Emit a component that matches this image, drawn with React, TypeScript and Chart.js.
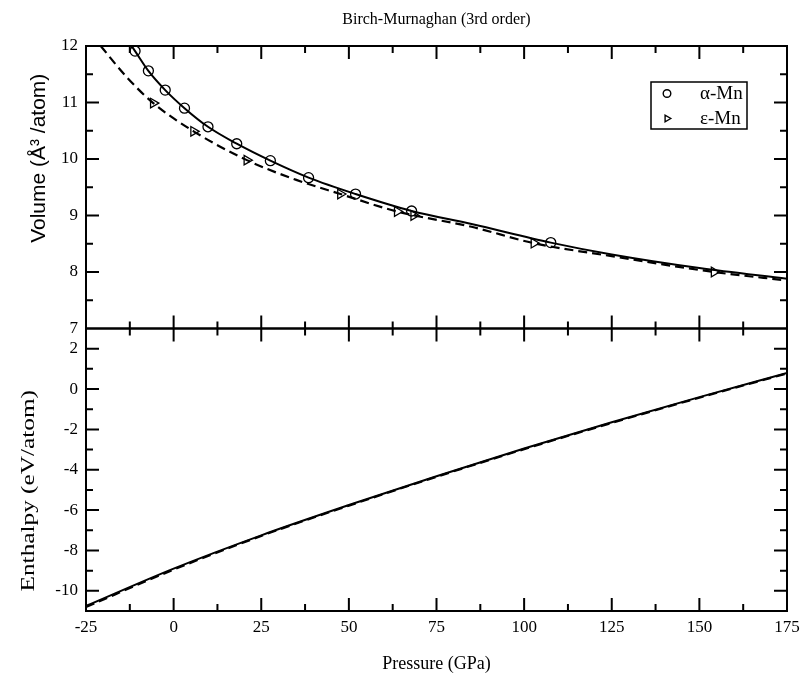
import React, { useEffect, useRef } from "react";
import { Chart, registerables } from "chart.js";
import { drawPoint } from "chart.js/helpers";

Chart.register(...registerables);

// ---- Data ----
const pressureTicks = [-25, 0, 25, 50, 75, 100, 125, 150, 175];
const volumeTicks = [7, 8, 9, 10, 11, 12];
const enthalpyTicks = [-10, -8, -6, -4, -2, 0, 2];

// alpha-Mn calculated points
const alphaP = [-11.0, -7.2, -2.4, 3.1, 9.8, 18.0, 27.6, 38.5, 51.9, 67.9, 107.6];
const alphaV = [11.91, 11.56, 11.22, 10.9, 10.57, 10.27, 9.97, 9.67, 9.38, 9.08, 8.52];
// epsilon-Mn calculated points
const epsP = [-5.8, 5.7, 20.9, 47.6, 63.8, 68.5, 102.8, 154.2];
const epsV = [10.99, 10.49, 9.98, 9.38, 9.07, 9.0, 8.51, 8.0];

// Birch-Murnaghan fit curves
const alphaFitP = [-12.0, -11.0, -7.2, -2.4, 3.1, 9.8, 18.0, 27.6, 38.5, 51.9, 67.9, 85, 107.6, 125, 150, 175];
const alphaFitV = [12.0, 11.91, 11.56, 11.22, 10.9, 10.57, 10.27, 9.97, 9.67, 9.38, 9.08, 8.85, 8.52, 8.31, 8.07, 7.88];
const epsFitP = [-20.8, -13.4, -5.8, 5.7, 20.9, 35, 47.6, 63.8, 85, 102.8, 125, 154.2, 175];
const epsFitV = [12.0, 11.45, 10.99, 10.49, 9.98, 9.63, 9.38, 9.07, 8.8, 8.51, 8.28, 8.0, 7.85];

// Enthalpy curves
const enthalpyP = [-25, 0, 25, 50, 75, 100, 125, 150, 175];
const enthalpyAlpha = [-10.75, -8.9, -7.25, -5.75, -4.32, -2.95, -1.65, -0.4, 0.8];
const enthalpyEps = [-10.8, -8.95, -7.28, -5.78, -4.35, -2.98, -1.68, -0.43, 0.77];

const zip = (xs: number[], ys: number[]) => xs.map((x, i) => ({ x, y: ys[i] }));

const SERIF = "'Liberation Serif', 'Times New Roman', serif";
const SANS = "'Liberation Sans', Arial, sans-serif";

const mids = (arr: number[]) => arr.slice(1).map((v, i) => (v + arr[i]) / 2);

const framePlugin = {
  id: "frameTicks",
  afterDraw(chart: any) {
    const { ctx } = chart;
    const x = chart.scales.x;
    const panels = [
      { s: chart.scales.yV, major: volumeTicks },
      { s: chart.scales.yH, major: enthalpyTicks },
    ];
    const MAJ = 13;
    const MIN = 7;
    ctx.save();
    ctx.strokeStyle = "#000";
    ctx.lineWidth = 2;
    ctx.lineCap = "butt";
    const pMajor = pressureTicks;
    const pMinor = mids(pressureTicks);
    for (const { s, major } of panels) {
      const top = s.top;
      const bottom = s.bottom;
      const left = x.left;
      const right = x.right;
      ctx.beginPath();
      ctx.rect(left, top, right - left, bottom - top);
      ctx.stroke();
      ctx.beginPath();
      const drawX = (v: number, len: number) => {
        const px = x.getPixelForValue(v);
        if (px <= left + 1 || px >= right - 1) return;
        ctx.moveTo(px, bottom);
        ctx.lineTo(px, bottom - len);
        ctx.moveTo(px, top);
        ctx.lineTo(px, top + len);
      };
      pMajor.forEach((v) => drawX(v, MAJ));
      pMinor.forEach((v) => drawX(v, MIN));
      const step = major[1] - major[0];
      const drawY = (v: number, len: number) => {
        const py = s.getPixelForValue(v);
        if (py <= top + 1 || py >= bottom - 1) return;
        ctx.moveTo(left, py);
        ctx.lineTo(left + len, py);
        ctx.moveTo(right, py);
        ctx.lineTo(right - len, py);
      };
      const ext = [major[0] - step, ...major, major[major.length - 1] + step];
      mids(ext).forEach((v) => drawY(v, MIN));
      major.forEach((v) => drawY(v, MAJ));
      ctx.stroke();
    }
    ctx.restore();
  },
};

const axisTitlePlugin = {
  id: "yTitles",
  afterDraw(chart: any) {
    const { ctx } = chart;
    const yV = chart.scales.yV;
    const yH = chart.scales.yH;
    ctx.save();
    ctx.fillStyle = "#000";
    ctx.textAlign = "center";
    ctx.textBaseline = "middle";
    ctx.save();
    ctx.translate(39, (yV.top + yV.bottom) / 2 - 29);
    ctx.rotate(-Math.PI / 2);
    ctx.font = `21px ${SANS}`;
    ctx.fillText("Volume (Å³ /atom)", 0, 0);
    ctx.restore();
    ctx.save();
    ctx.translate(29, (yH.top + yH.bottom) / 2 + 21);
    ctx.rotate(-Math.PI / 2);
    ctx.scale(1.33, 1);
    ctx.font = `19px ${SERIF}`;
    ctx.fillText("Enthalpy (eV/atom)", 0, 0);
    ctx.restore();
    ctx.restore();
  },
};

const legendPlugin = {
  id: "insetLegend",
  afterDraw(chart: any) {
    const { ctx } = chart;
    const x = chart.scales.x;
    const yV = chart.scales.yV;
    const items = chart.data.datasets.filter((d: any) => d.inLegend);
    const w = 96;
    const rowH = 25;
    const h = rowH * items.length - 3;
    const left = x.right - 40 - w;
    const top = yV.top + 36;
    ctx.save();
    ctx.strokeStyle = "#000";
    ctx.lineWidth = 1.5;
    ctx.strokeRect(left, top, w, h);
    ctx.font = `19px ${SERIF}`;
    ctx.textBaseline = "middle";
    ctx.textAlign = "left";
    items.forEach((d: any, i: number) => {
      const cy = top + 11.5 + i * rowH;
      ctx.strokeStyle = "#000";
      ctx.fillStyle = "rgba(0,0,0,0)";
      ctx.lineWidth = 1.4;
      drawPoint(
        ctx,
        { pointStyle: d.pointStyle, rotation: d.rotation || 0, radius: 3.8, borderWidth: 1.4 },
        left + 16,
        cy
      );
      ctx.fillStyle = "#000";
      ctx.fillText(d.label, left + 49, cy + 1);
    });
    ctx.restore();
  },
};

const noPad = (s: any) => {
  s.paddingLeft = 0;
  s.paddingRight = 0;
  s.paddingTop = 0;
  s.paddingBottom = 0;
};

export default function App() {
  const ref = useRef<HTMLCanvasElement | null>(null);
  useEffect(() => {
    document.body.style.margin = "0";
    document.body.style.overflow = "hidden";
    const canvas = ref.current;
    if (!canvas) return;
    const tickFont = { family: SERIF, size: 17 };
    const chart = new Chart(canvas, {
      type: "line",
      data: {
        datasets: [
          {
            type: "scatter",
            label: "α-Mn",
            inLegend: true,
            data: zip(alphaP, alphaV),
            yAxisID: "yV",
            showLine: false,
            pointStyle: "circle",
            pointRadius: 5,
            pointBorderWidth: 1.3,
            borderColor: "#000",
            backgroundColor: "rgba(0,0,0,0)",
          } as any,
          {
            type: "scatter",
            label: "ε-Mn",
            inLegend: true,
            data: zip(epsP, epsV),
            yAxisID: "yV",
            showLine: false,
            pointStyle: "triangle",
            rotation: 90,
            pointRotation: 90,
            pointRadius: 5.5,
            pointBorderWidth: 1.3,
            borderColor: "#000",
            backgroundColor: "rgba(0,0,0,0)",
          } as any,
          {
            label: "α-Mn fit",
            data: zip(alphaFitP, alphaFitV),
            yAxisID: "yV",
            borderColor: "#000",
            borderWidth: 2,
            pointRadius: 0,
            cubicInterpolationMode: "monotone",
            fill: false,
          },
          {
            label: "ε-Mn fit",
            data: zip(epsFitP, epsFitV),
            yAxisID: "yV",
            borderColor: "#000",
            borderWidth: 2.2,
            borderDash: [9, 5],
            pointRadius: 0,
            cubicInterpolationMode: "monotone",
            fill: false,
          },
          {
            label: "α-Mn enthalpy",
            data: zip(enthalpyP, enthalpyAlpha),
            yAxisID: "yH",
            borderColor: "#000",
            borderWidth: 2,
            pointRadius: 0,
            cubicInterpolationMode: "monotone",
            fill: false,
          },
          {
            label: "ε-Mn enthalpy",
            data: zip(enthalpyP, enthalpyEps),
            yAxisID: "yH",
            borderColor: "#000",
            borderWidth: 2.2,
            borderDash: [9, 5],
            pointRadius: 0,
            cubicInterpolationMode: "monotone",
            fill: false,
          },
        ],
      },
      options: {
        responsive: false,
        animation: false,
        devicePixelRatio: 1,
        layout: { padding: { top: 0, left: 0, right: 14, bottom: 0 } },
        plugins: {
          legend: { display: false },
          tooltip: { enabled: false },
          title: {
            display: true,
            fullSize: false,
            text: "Birch-Murnaghan (3rd order)",
            color: "#000",
            font: { family: SERIF, size: 16, weight: "normal" },
            padding: { top: 10, bottom: 16.8 },
          },
        },
        scales: {
          x: {
            type: "linear",
            position: "bottom",
            min: -25,
            max: 175,
            grid: { display: false, drawTicks: false },
            border: { display: false },
            ticks: { color: "#000", font: tickFont, padding: 6, maxRotation: 0, autoSkip: false },
            afterBuildTicks: (s: any) => {
              s.ticks = pressureTicks.map((value) => ({ value }));
            },
            title: {
              display: true,
              text: "Pressure (GPa)",
              color: "#000",
              font: { family: SERIF, size: 18 },
              padding: { top: 0, bottom: 0 },
            },
            afterFit: (s: any) => {
              s.height = 64;
              noPad(s);
            },
          },
          yV: {
            type: "linear",
            position: "left",
            stack: "panels",
            stackWeight: 1,
            weight: 1,
            min: 7,
            max: 12,
            grid: { display: false, drawTicks: false },
            border: { display: false },
            ticks: { color: "#000", font: tickFont, padding: 8 },
            afterBuildTicks: (s: any) => {
              s.ticks = volumeTicks.map((value) => ({ value }));
            },
            afterFit: (s: any) => {
              s.width = 86;
              noPad(s);
            },
          },
          yH: {
            type: "linear",
            position: "left",
            stack: "panels",
            stackWeight: 1,
            weight: 0,
            min: -11,
            max: 3,
            grid: { display: false, drawTicks: false },
            border: { display: false },
            ticks: { color: "#000", font: tickFont, padding: 8 },
            afterBuildTicks: (s: any) => {
              s.ticks = enthalpyTicks.map((value) => ({ value }));
            },
            afterFit: (s: any) => {
              s.width = 86;
              noPad(s);
            },
          },
        },
      } as any,
      plugins: [framePlugin, axisTitlePlugin, legendPlugin],
    });
    return () => chart.destroy();
  }, []);
  return (
    <div style={{ width: 801, height: 675 }}>
      <canvas ref={ref} width={801} height={675} style={{ display: "block" }} />
    </div>
  );
}
